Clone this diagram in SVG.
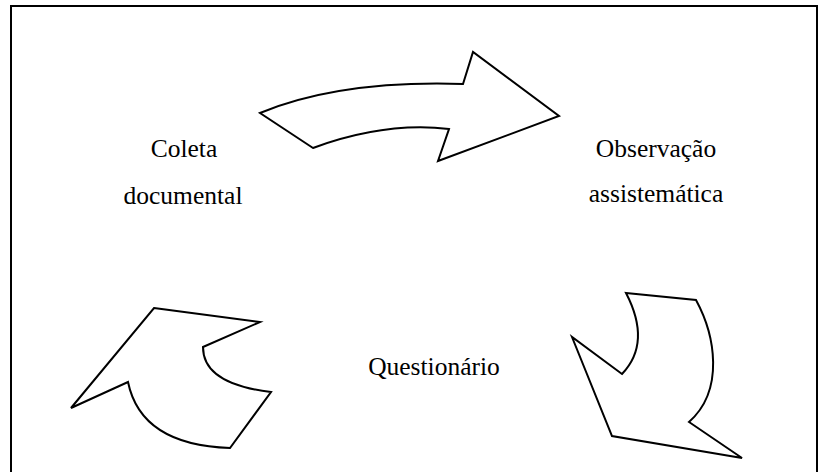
<svg xmlns="http://www.w3.org/2000/svg" width="818" height="472" viewBox="0 0 818 472">
  <style>
    .frame { fill: #ffffff; stroke: #000000; stroke-width: 2; }
    .arrow { fill: #ffffff; stroke: #000000; stroke-width: 2; stroke-linejoin: miter; }
    .label { font-family: "Liberation Serif", "Times New Roman", serif; font-size: 25.5px; fill: #000000; text-anchor: middle; }
  </style>
  <rect class="frame" x="11" y="6" width="806" height="470"/>
  <g id="connectors">
    <path id="arrow-top" class="arrow" d="M260,113 Q340,80 463,84 L473,52 L559,116 L438,161 L449,129 Q385,121.5 313,148 Z"/>
    <path id="arrow-right" class="arrow" d="M626,293 L696,300 C715,335 725,390 689,422 L742,458 L612,436 L572,337 L622,374 C645,350 640,320 626,293 Z"/>
    <path id="arrow-left" class="arrow" d="M154,308 L260,322 L203,347 Q203,384 271,392 L230,448 Q141,445 128,382 L71,408 Z"/>
  </g>
  <g id="node-coleta">
    <text class="label" x="184" y="157">Coleta</text>
    <text class="label" x="183" y="204">documental</text>
  </g>
  <g id="node-observacao">
    <text class="label" x="656" y="157">Observação</text>
    <text class="label" x="656" y="202">assistemática</text>
  </g>
  <g id="node-questionario">
    <text class="label" x="434" y="375">Questionário</text>
  </g>
</svg>
